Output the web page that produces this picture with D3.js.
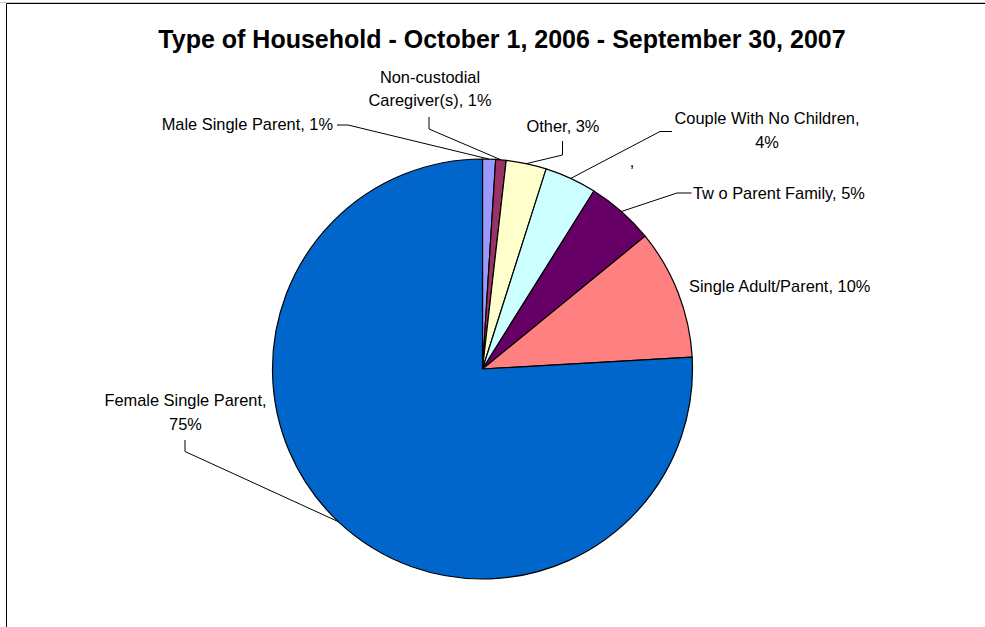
<!DOCTYPE html>
<html>
<head>
<meta charset="utf-8">
<script src="https://cdn.jsdelivr.net/npm/d3@7"></script>
<style>
  html, body { margin: 0; padding: 0; background: #fff; }
  svg { display: block; }
  text { font-family: "Liberation Sans", Arial, sans-serif; fill: #000; }
</style>
</head>
<body>
<svg id="chart" width="985" height="627"></svg>
<script>
// ---- data ----
const title = "Type of Household - October 1, 2006 - September 30, 2007";
const categories = ["Male Single Parent", "Non-custodial Caregiver(s)", "Other", "Couple With No Children", "Tw o Parent Family", "Single Adult/Parent", "Female Single Parent"];
const values = [1.0, 0.8, 3.1, 4.0, 5.2, 10.0, 75.9];
const pctLabels = ["1%", "1%", "3%", "4%", "5%", "10%", "75%"];
const colors = ["#9999FF", "#993366", "#FFFFCC", "#CCFFFF", "#660066", "#FF8080", "#0066CC"];

// ---- layout (label placement) ----
const cx = 482.5, cy = 369, R = 210;
const labelLayout = [
  { lines: [0], x: 333, y: 130, anchor: "end", leader: [[337, 125], [348, 125]] },
  { lines: [1, 1], x: 430, y: 82.5, anchor: "middle", leader: [[429, 117], [429, 129]] },
  { lines: [0], x: 563, y: 131.5, anchor: "middle", leader: [[562.5, 141], [562.5, 155]] },
  { lines: [1, 1], x: 767, y: 124, anchor: "middle", leader: [[672, 131.5], [660, 131.5]] },
  { lines: [0], x: 693, y: 198.5, anchor: "start", leader: [[691.5, 193], [677, 193]] },
  { lines: [0], x: 689, y: 291.5, anchor: "start", leader: null },
  { lines: [1, 1], x: 185.5, y: 406, anchor: "middle", leader: [[185, 440], [185, 451.5]] }
];
const splitNames = { "Non-custodial Caregiver(s)": ["Non-custodial", "Caregiver(s)"] };

const svg = d3.select("#chart");

// frame
svg.append("line").attr("x1", 0).attr("x2", 985).attr("y1", 2.5).attr("y2", 2.5).attr("stroke", "#c8c8c8").attr("stroke-width", 1);
svg.append("line").attr("x1", 6.5).attr("x2", 985).attr("y1", 3.5).attr("y2", 3.5).attr("stroke", "#000").attr("stroke-width", 1);
svg.append("line").attr("x1", 6.5).attr("x2", 6.5).attr("y1", 3.5).attr("y2", 627).attr("stroke", "#000").attr("stroke-width", 1);

// title
svg.append("text")
  .attr("x", 502).attr("y", 48)
  .attr("text-anchor", "middle")
  .style("font-size", "25px").style("font-weight", "bold")
  .text(title);

const pie = d3.pie().sort(null).value(d => d).startAngle(0).endAngle(2 * Math.PI);
const arcs = pie(values);
const arc = d3.arc().innerRadius(0).outerRadius(R);
const edgeArc = d3.arc().innerRadius(R).outerRadius(R);

const g = svg.append("g").attr("transform", `translate(${cx},${cy})`);
g.selectAll("path.slice")
  .data(arcs)
  .join("path")
  .attr("class", "slice")
  .attr("d", arc)
  .attr("fill", (d, i) => colors[i])
  .attr("stroke", "#000")
  .attr("stroke-width", 1.2)
  .attr("stroke-linejoin", "round");

// leader lines
arcs.forEach((d, i) => {
  const L = labelLayout[i];
  if (!L.leader) return;
  const c = edgeArc.centroid(d);
  const pts = L.leader.concat([[cx + c[0], cy + c[1]]]);
  svg.append("path")
    .attr("d", d3.line()(pts))
    .attr("fill", "none")
    .attr("stroke", "#000")
    .attr("stroke-width", 1);
});

// label text lines built from categories + percentage labels
function labelLines(i) {
  const name = categories[i], pct = pctLabels[i];
  const L = labelLayout[i];
  if (L.lines.length === 1) return [name + ", " + pct];
  if (splitNames[name]) return [splitNames[name][0], splitNames[name][1] + ", " + pct];
  return [name + ",", pct];
}

labelLayout.forEach((L, i) => {
  const t = svg.append("text")
    .attr("text-anchor", L.anchor)
    .style("font-size", "16.4px");
  labelLines(i).forEach((ln, j) => {
    t.append("tspan").attr("x", L.x).attr("y", L.y + j * 23.5).text(ln);
  });
});

// stray separator as in the original
svg.append("text").attr("x", 632).attr("y", 167).attr("text-anchor", "middle").style("font-size", "16.4px").text(",");
</script>
</body>
</html>
